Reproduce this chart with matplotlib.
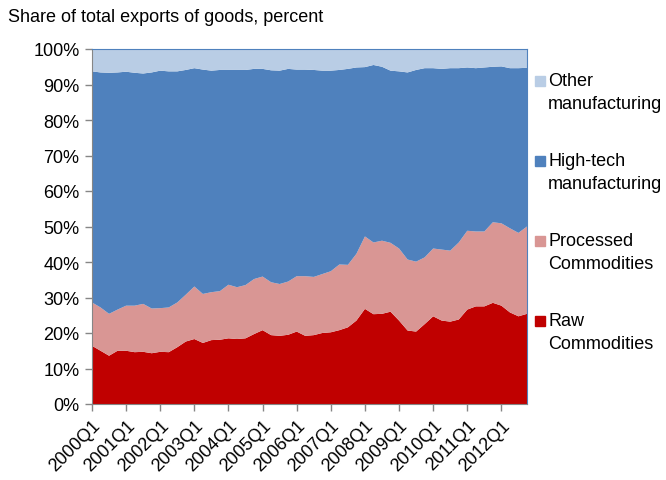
import numpy as np
import matplotlib.pyplot as plt
from matplotlib.patches import Rectangle

plt.rcParams['font.family'] = ['Liberation Sans', 'DejaVu Sans']

# quarterly shares, 2000Q1 .. 2012Q4 (percent of total exports of goods)
quarters = ['%dQ%d' % (y, q) for y in range(2000, 2013) for q in range(1, 5)]

raw = [16.4, 15.0, 13.6, 15.0, 15.0, 14.6, 14.7, 14.3, 14.7, 14.6, 16.0, 17.6, 18.3,
       17.2, 18.0, 18.1, 18.5, 18.3, 18.5, 19.7, 20.8, 19.4, 19.2, 19.5, 20.4, 19.2,
       19.4, 20.0, 20.2, 20.8, 21.6, 23.5, 26.8, 25.3, 25.4, 26.0, 23.5, 20.7, 20.4,
       22.5, 24.7, 23.5, 23.2, 23.8, 26.6, 27.5, 27.5, 28.5, 27.7, 25.8, 24.7, 25.4]
processed = [12.2, 12.2, 11.8, 11.6, 12.7, 13.1, 13.5, 12.6, 12.3, 12.6, 12.6, 13.2, 14.8,
             13.8, 13.5, 13.7, 15.1, 14.6, 15.0, 15.5, 15.1, 14.9, 14.6, 15.0, 15.6, 16.8,
             16.4, 16.6, 17.2, 18.5, 17.6, 18.8, 20.4, 20.2, 20.6, 19.4, 20.3, 20.0, 19.7,
             18.8, 19.1, 20.0, 20.0, 21.7, 22.2, 21.1, 21.1, 22.7, 23.2, 23.7, 23.5, 24.6]
hightech = [65.1, 66.2, 67.9, 66.8, 65.9, 65.6, 64.9, 66.5, 66.9, 66.5, 65.1, 63.3, 61.5,
            63.2, 62.4, 62.3, 60.5, 61.2, 60.6, 59.2, 58.5, 59.7, 60.1, 59.9, 58.2, 58.2,
            58.3, 57.3, 56.5, 54.8, 55.2, 52.5, 47.7, 50.0, 49.0, 48.5, 49.9, 52.7, 54.0,
            53.3, 50.8, 50.9, 51.4, 49.1, 46.0, 46.0, 46.2, 43.8, 44.2, 45.1, 46.4, 44.7]
other = [6.3, 6.6, 6.7, 6.6, 6.4, 6.7, 6.9, 6.6, 6.1, 6.3, 6.3, 5.9, 5.4, 5.8, 6.1, 5.9,
         5.9, 5.9, 5.9, 5.6, 5.6, 6.0, 6.1, 5.6, 5.8, 5.8, 5.9, 6.1, 6.1, 5.9, 5.6, 5.2,
         5.1, 4.5, 5.0, 6.1, 6.3, 6.6, 5.9, 5.4, 5.4, 5.6, 5.4, 5.4, 5.2, 5.4, 5.2, 5.0,
         4.9, 5.4, 5.4, 5.3]

names = ['Raw\nCommodities', 'Processed\nCommodities', 'High-tech\nmanufacturing',
         'Other\nmanufacturing']
colors = ['#C00000', '#D99694', '#4F81BD', '#B9CDE5']

fig = plt.figure(figsize=(6.66, 4.81), dpi=100)
ax = fig.add_axes([92/666, 76/481, 435/666, 355/481])

x = np.arange(len(quarters))
ax.stackplot(x, raw, processed, hightech, other, colors=colors, linewidth=0)

ax.set_xlim(0, len(quarters) - 1)
ax.set_ylim(0, 100)
ax.set_yticks(range(0, 101, 10))
ax.set_yticklabels(['%d%%' % v for v in range(0, 101, 10)], fontsize=13)
ax.set_xticks(x[::4])
ax.set_xticklabels(quarters[::4], rotation=45, ha='right', rotation_mode='anchor',
                   fontsize=13)
ax.tick_params(axis='both', direction='out', length=5, color='#868686', width=1)
ax.tick_params(axis='y', pad=4)
ax.tick_params(axis='x', pad=4)
for s in ['left', 'bottom']:
    ax.spines[s].set_color('#868686')
for s in ['top', 'right']:
    ax.spines[s].set_color('#4F81BD')
    ax.spines[s].set_linewidth(0.8)

fig.text(8/666, 1 - 18/481, 'Share of total exports of goods, percent', fontsize=13,
         va='center', ha='left')

# legend, drawn by hand (top entry = Other)
ys = [322, 242, 162, 82]
for name, col, yy in zip(names, colors, ys):
    fig.patches.append(Rectangle((535/666, 1 - (yy + 5)/481), 10/666, 10/481,
                                 transform=fig.transFigure, color=col))
    l1, l2 = name.split('\n')
    fig.text(548/666, 1 - yy/481, l1, fontsize=13, va='center', ha='left')
    fig.text(548/666, 1 - (yy + 23)/481, l2, fontsize=13, va='center', ha='left')

fig.savefig('out.png', dpi=100)
